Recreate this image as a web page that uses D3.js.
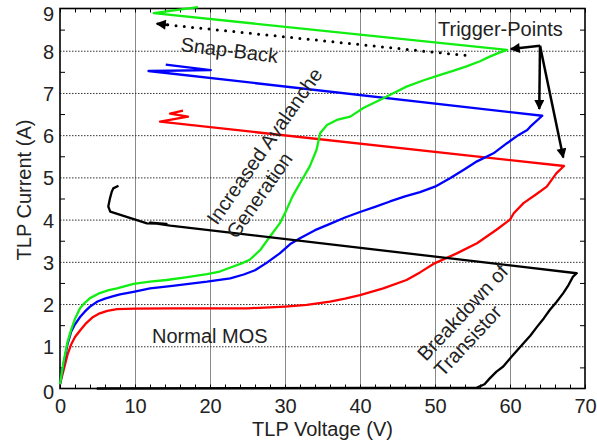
<!DOCTYPE html>
<html>
<head>
<meta charset="utf-8">
<script src="https://cdn.jsdelivr.net/npm/d3@7"></script>
<style>
  body { margin: 0; background: #fff; }
  text { font-family: "Liberation Sans", Arial, sans-serif; fill: #222; }
</style>
</head>
<body>
<svg id="chart" width="597" height="444"></svg>
<script>
// TLP curves, [voltage V, current A]
let redCurve = [
  [0, 0.1], [0.5, 0.45], [1, 0.8], [1.5, 1.05], [2, 1.22], [2.7, 1.38], [3.5, 1.55], [4.3, 1.68],
  [5.3, 1.78], [6.3, 1.84], [7.6, 1.88], [10, 1.89], [15, 1.9], [20, 1.9], [25, 1.9], [28, 1.92],
  [30, 1.94], [32.9, 1.98], [36, 2.06], [38, 2.13], [40, 2.21], [43.1, 2.37], [46.2, 2.57],
  [48, 2.75], [50, 2.97], [52.9, 3.2], [55.6, 3.44], [58.2, 3.76], [60, 4.0], [60.5, 4.15],
  [61.8, 4.39], [63.5, 4.6], [64.9, 4.78], [66.2, 5.1], [67.2, 5.27],
  [13.33, 6.32], [17.07, 6.44], [14.67, 6.51], [16.4, 6.58]
];
let blueCurve = [
  [0, 0.1], [0.5, 0.6], [1, 1.05], [1.5, 1.35], [2, 1.52], [2.7, 1.7], [3.3, 1.82], [4, 1.94],
  [5, 2.06], [6, 2.13], [7, 2.18], [8, 2.23], [9.8, 2.29], [12, 2.37], [15, 2.43], [19.6, 2.53],
  [22.7, 2.61], [24.5, 2.7], [26, 2.8], [27.5, 2.97], [29.3, 3.2], [30.7, 3.42], [32, 3.56],
  [34, 3.75], [36, 3.9], [38, 4.05], [40, 4.18], [42, 4.3], [44, 4.43], [46, 4.55], [48, 4.65],
  [50, 4.78], [52, 4.98], [54, 5.2], [55.6, 5.38], [57.8, 5.57], [59.6, 5.81], [61.1, 6.0],
  [62.3, 6.12], [62.7, 6.2], [64.3, 6.46],
  [11.8, 7.52], [20.1, 7.54], [14.1, 7.67]
];
let greenCurve = [
  [0, 0.1], [0.5, 0.65], [1, 1.1], [1.5, 1.4], [2, 1.65], [2.67, 1.9], [3.3, 2.03], [4, 2.14],
  [5.3, 2.26], [6.5, 2.33], [7.6, 2.37], [9.8, 2.48], [12, 2.53], [14.2, 2.57], [17, 2.64],
  [19.6, 2.71], [21.3, 2.77], [23.1, 2.89], [24.3, 2.97], [25.3, 3.05], [26.7, 3.28], [28, 3.6],
  [29.3, 3.91], [30.2, 4.23], [31, 4.55], [32, 4.86], [33.3, 5.26], [34.2, 5.65], [34.7, 6.05],
  [35.6, 6.24], [36.9, 6.36], [38.7, 6.44], [40.5, 6.65], [42.7, 6.84], [44.5, 7.0], [46.2, 7.15],
  [48.5, 7.3], [50.7, 7.43], [52.5, 7.53], [54.2, 7.63], [56, 7.75], [57.3, 7.86], [58.5, 7.95],
  [59.6, 8.02],
  [12.5, 8.89], [18.4, 9.03]
];
let blackCurve = [
  [4.9, 0], [55.6, 0.02], [56.6, 0.1], [57.3, 0.24], [58.2, 0.4], [59.1, 0.52], [60.2, 0.75],
  [61.8, 1.07], [62.7, 1.25], [63.6, 1.46], [64.5, 1.66], [65.3, 1.86], [66.2, 2.05], [67.1, 2.26],
  [67.8, 2.45], [68.4, 2.65], [68.9, 2.73],
  [14.7, 3.86], [12.0, 3.93], [14.2, 3.9], [11.6, 3.91],
  [6.7, 4.19], [6.44, 4.31], [6.67, 4.51], [6.9, 4.66], [7.1, 4.74], [7.8, 4.8]
];

let xMajor = [0, 10, 20, 30, 40, 50, 60, 70];
let yMajor = [0, 1, 2, 3, 4, 5, 6, 7, 8, 9];
let xMinor = d3.range(0, 71, 2);
let yMinor = [0.5, 1.5, 2.5, 3.5, 4.5, 5.5, 6.5, 7.5, 8.5];

// annotation arrows
let snapBack = [[54, 7.89], [12.9, 8.64]];
let triggerFrom = [64, 8.12];
let triggerTo = [[60.1, 8.04], [63.9, 6.62], [67.1, 5.47]];

let plotLeft = 60, plotRight = 585, plotTop = 8.5, plotBottom = 388.5;
let x = d3.scaleLinear().domain([0, 70]).range([plotLeft, plotRight]);
let y = d3.scaleLinear().domain([0, 9]).range([plotBottom, plotTop]);

let svg = d3.select("#chart");

svg.append("defs").append("marker")
  .attr("id", "head")
  .attr("viewBox", "0 0 10 10")
  .attr("refX", 9).attr("refY", 5)
  .attr("markerWidth", 5).attr("markerHeight", 4)
  .attr("markerUnits", "strokeWidth")
  .attr("orient", "auto")
  .append("path").attr("d", "M0,0L10,5L0,10Z").attr("fill", "black");

// grid
svg.append("g")
  .attr("transform", "translate(0," + plotBottom + ")")
  .call(d3.axisBottom(x).tickValues([10, 20, 30, 40, 50, 60]).tickSize(-(plotBottom - plotTop)).tickFormat(""))
  .call(g => g.select(".domain").remove())
  .call(g => g.selectAll("line").attr("stroke", "#8a8a8a"));
svg.append("g")
  .attr("transform", "translate(" + plotLeft + ",0)")
  .call(d3.axisLeft(y).tickValues([1, 2, 3, 4, 5, 6, 7, 8]).tickSize(-(plotRight - plotLeft)).tickFormat(""))
  .call(g => g.select(".domain").remove())
  .call(g => g.selectAll("line").attr("stroke", "#333").attr("stroke-dasharray", "1.5,1.5"));

// minor ticks
svg.append("g").attr("transform", "translate(0," + plotBottom + ")")
  .call(d3.axisBottom(x).tickValues(xMinor).tickSize(-4).tickFormat(""))
  .call(g => g.select(".domain").remove());
svg.append("g").attr("transform", "translate(0," + plotTop + ")")
  .call(d3.axisTop(x).tickValues(xMinor).tickSize(-4).tickFormat(""))
  .call(g => g.select(".domain").remove());
svg.append("g").attr("transform", "translate(" + plotLeft + ",0)")
  .call(d3.axisLeft(y).tickValues(yMinor).tickSize(-5).tickFormat(""))
  .call(g => g.select(".domain").remove());
svg.append("g").attr("transform", "translate(" + plotRight + ",0)")
  .call(d3.axisRight(y).tickValues(yMinor).tickSize(-5).tickFormat(""))
  .call(g => g.select(".domain").remove());

// tick labels
svg.append("g").attr("transform", "translate(0," + plotBottom + ")")
  .call(d3.axisBottom(x).tickValues(xMajor).tickSize(0).tickPadding(10))
  .call(g => g.select(".domain").remove())
  .selectAll("text").attr("font-size", 20).attr("font-family", null);
svg.append("g").attr("transform", "translate(" + plotLeft + ",0)")
  .call(d3.axisLeft(y).tickValues(yMajor).tickSize(0).tickPadding(6))
  .call(g => g.select(".domain").remove())
  .selectAll("text").attr("font-size", 20).attr("font-family", null)
  .attr("dy", d => d === 9 ? "0.6em" : (d === 0 ? "0.5em" : "0.38em"));

// frame
svg.append("rect")
  .attr("x", plotLeft).attr("y", plotTop)
  .attr("width", plotRight - plotLeft).attr("height", plotBottom - plotTop)
  .attr("fill", "none").attr("stroke", "black").attr("stroke-width", 1.6);

let line = d3.line().x(d => x(d[0])).y(d => y(d[1]));

let curves = [
  [redCurve, "#ff0000"],
  [blueCurve, "#0000ff"],
  [greenCurve, "#11ee11"],
  [blackCurve, "#000000"]
];
svg.append("g").selectAll("path")
  .data(curves)
  .enter().append("path")
  .attr("d", d => line(d[0]))
  .attr("fill", "none")
  .attr("stroke", d => d[1])
  .attr("stroke-width", 2.3)
  .attr("stroke-linejoin", "round");

// snap-back dotted arrow
svg.append("path")
  .attr("d", line([snapBack[0], [13.6, 8.627]]))
  .attr("fill", "none").attr("stroke", "black")
  .attr("stroke-width", 3).attr("stroke-linecap", "round")
  .attr("stroke-dasharray", "0,8.3");
svg.append("path")
  .attr("d", line([[14.4, 8.61], snapBack[1]]))
  .attr("stroke", "black").attr("stroke-width", 2.5)
  .attr("marker-end", "url(#head)");

// trigger point arrows
svg.append("g").selectAll("path")
  .data(triggerTo)
  .enter().append("path")
  .attr("d", d => line([triggerFrom, d]))
  .attr("fill", "none").attr("stroke", "black").attr("stroke-width", 2.5)
  .attr("marker-end", "url(#head)");

// annotations
svg.append("text").attr("x", 438).attr("y", 36).attr("font-size", 20).text("Trigger-Points");
svg.append("text").attr("x", 152).attr("y", 343).attr("font-size", 20).text("Normal MOS");
svg.append("text").attr("transform", "translate(180,51) rotate(7)").attr("font-size", 20).text("Snap-Back");

let aval = svg.append("g").attr("transform", "translate(217,226) rotate(-55)");
aval.append("text").attr("font-size", 20).text("Increased Avalanche");
aval.append("text").attr("y", 24).attr("font-size", 20).text("Generation");

let brk = svg.append("g").attr("transform", "translate(426,362) rotate(-47)");
brk.append("text").attr("font-size", 20).text("Breakdown of");
brk.append("text").attr("y", 23).attr("font-size", 20).text("Transistor");

// axis titles
svg.append("text").attr("x", (plotLeft + plotRight) / 2).attr("y", 436)
  .attr("text-anchor", "middle").attr("font-size", 20).text("TLP Voltage (V)");
svg.append("text").attr("transform", "translate(31," + 190 + ") rotate(-90)")
  .attr("text-anchor", "middle").attr("font-size", 20).text("TLP Current (A)");
</script>
</body>
</html>
